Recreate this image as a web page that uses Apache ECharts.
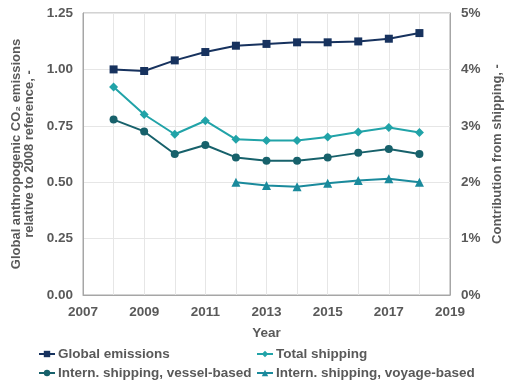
<!DOCTYPE html>
<html><head><meta charset="utf-8">
<script src="https://cdn.jsdelivr.net/npm/echarts@6/dist/echarts.min.js"></script>
<style>html,body{margin:0;padding:0;background:#fff}#c{width:507px;height:381px}</style>
</head><body><div id="c"></div>
<script>
const years = [2008,2009,2010,2011,2012,2013,2014,2015,2016,2017,2018];
const globalEmissions = [1.00,0.993,1.04,1.077,1.105,1.113,1.12,1.12,1.124,1.136,1.161];
const totalShipping = [3.69,3.20,2.85,3.09,2.76,2.74,2.74,2.80,2.89,2.97,2.88];
const vesselBased = [3.11,2.90,2.50,2.66,2.44,2.38,2.38,2.44,2.52,2.59,2.50];
const voyageYears = [2012,2013,2014,2015,2016,2017,2018];
const voyageBased = [2.00,1.94,1.92,1.98,2.03,2.06,2.00];
const leftTicks = ['0.00','0.25','0.50','0.75','1.00','1.25'];

const zip = (xs, ys) => xs.map((x,i)=>[x,ys[i]]);
const txt = {color:'#595959', fontWeight:'bold', fontSize:13.5, fontFamily:'Liberation Sans, Arial, sans-serif'};
const titleTxt = Object.assign({}, txt, {fontSize:13});
const grid = {lineStyle:{color:'#e6e6e6', width:1}};
const chart = echarts.init(document.getElementById('c'));
const legStyle = {itemWidth:16, itemHeight:8, itemGap:0, textStyle:Object.assign({}, txt, {padding:[0,0,0,-2]}), padding:0};
chart.setOption({
  animation:false,
  grid:{left:83, right:57, top:13, bottom:86, show:true, borderColor:'#a6a6a6', borderWidth:1,
        containLabel:false, outerBoundsMode:'none'},
  xAxis:{type:'value', min:2007, max:2019, interval:2, name:'Year', nameLocation:'middle', nameGap:31,
    nameTextStyle:txt, axisLabel:Object.assign({}, txt, {margin:10, formatter:(v)=>String(v)}),
    axisLine:{lineStyle:{color:'#a6a6a6'}}, axisTick:{show:false},
    splitLine:Object.assign({show:true}, grid),
    minorTick:{show:false, splitNumber:2}, minorSplitLine:Object.assign({show:true}, grid)},
  yAxis:[
    {type:'value', min:0, max:1.25, interval:0.25,
     name:'Global anthropogenic CO\u2082 emissions\nrelative to 2008 reference, -',
     nameLocation:'middle', nameGap:47, nameRotate:90,
     nameTextStyle:Object.assign({}, titleTxt, {lineHeight:13}),
     axisLabel:Object.assign({}, txt, {margin:10, formatter:(v)=>leftTicks[Math.round(v/0.25)]}),
     axisLine:{show:true, lineStyle:{color:'#a6a6a6'}}, axisTick:{show:false},
     splitLine:Object.assign({show:true}, grid)},
    {type:'value', min:0, max:5, interval:1, position:'right',
     name:'Contribution from shipping, -', nameLocation:'middle', nameGap:40, nameRotate:90,
     nameTextStyle:titleTxt,
     axisLabel:Object.assign({}, txt, {margin:11, formatter:'{value}%'}),
     axisLine:{show:true, lineStyle:{color:'#a6a6a6'}}, axisTick:{show:false}, splitLine:{show:false}}
  ],
  legend:[
    Object.assign({data:['Global emissions'], left:38, top:347}, legStyle),
    Object.assign({data:['Total shipping'], left:256, top:347}, legStyle),
    Object.assign({data:['Intern. shipping, vessel-based'], left:38, top:366}, legStyle),
    Object.assign({data:['Intern. shipping, voyage-based'], left:256, top:366}, legStyle)
  ],
  series:[
    {name:'Global emissions', type:'line', yAxisIndex:0, data:zip(years, globalEmissions),
     symbol:'rect', symbolSize:8, color:'#17325e', lineStyle:{width:2}},
    {name:'Total shipping', type:'line', yAxisIndex:1, data:zip(years, totalShipping),
     symbol:'diamond', symbolSize:9, color:'#21a3a8', lineStyle:{width:2}},
    {name:'Intern. shipping, vessel-based', type:'line', yAxisIndex:1, data:zip(years, vesselBased),
     symbol:'circle', symbolSize:8, color:'#17616b', lineStyle:{width:2}},
    {name:'Intern. shipping, voyage-based', type:'line', yAxisIndex:1, data:zip(voyageYears, voyageBased),
     symbol:'triangle', symbolSize:9, color:'#1a8a9c', lineStyle:{width:2}}
  ]
});
</script></body></html>
